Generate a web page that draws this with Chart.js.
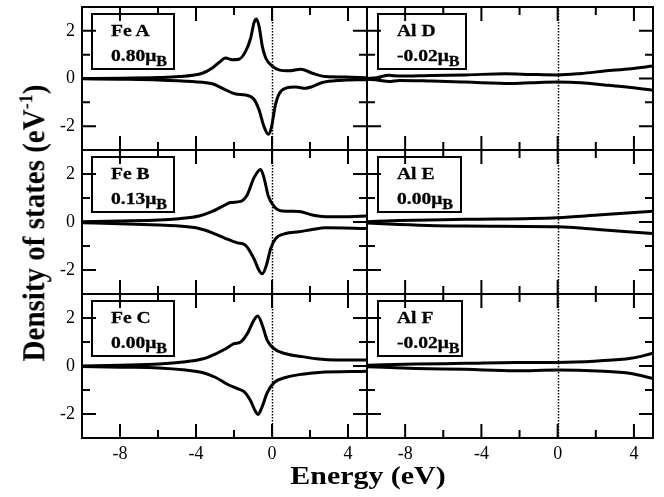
<!DOCTYPE html>
<html>
<head>
<meta charset="utf-8">
<script src="https://cdn.jsdelivr.net/npm/chart.js@4.4.1/dist/chart.umd.min.js"></script>
<style>
  html, body { margin: 0; padding: 0; background: #fff; }
  #fig { position: relative; width: 664px; height: 497px; overflow: hidden;
         font-family: "Liberation Serif", "Times New Roman", serif; color: #000; }
  #fig canvas { position: absolute; left: 0; top: 0; }
  .box { position: absolute; border: 2px solid #000; box-sizing: border-box; z-index: 5; }
  .box div { position: absolute; left: 18px; font-weight: bold; font-size: 17px; line-height: 17px;
             white-space: nowrap; transform: scaleX(1.15); transform-origin: left center;
             -webkit-text-stroke: 0.3px #000; }
  .box sub { font-size: 14px; line-height: 0; vertical-align: -5px; }
  .title { position: absolute; font-weight: bold; white-space: nowrap; text-align: center; z-index: 5; }
  .title sup { font-size: 18px; line-height: 0; vertical-align: 11px; }
</style>
</head>
<body>
<div id="fig">
  <div class="title" id="ytitle">Density of states (eV<sup>-1</sup>)</div>
  <div class="title" id="xtitle">Energy (eV)</div>
</div>
<script>
// Axes
const energyMin = -10, energyMax = 5;
const dosMin = -3, dosMax = 3;
const xTickLabels = [-8, -4, 0, 4];
const xMinorTicks = [-6, -2, 2];
const yTickLabels = [-2, 0, 2];
const yMinorTicks = [-1, 1];

// Panel labels
const siteNames = ['Fe A', 'Fe B', 'Fe C', 'Al D', 'Al E', 'Al F'];
const siteMoments = ['0.80', '0.13', '0.00', '-0.02', '0.00', '-0.02'];

// Fe A
const feA_upE = [-10, -8, -6, -4.9, -3.67, -3.14, -2.79, -2.44, -2.09, -1.74, -1.39, -1.12, -0.95, -0.82, -0.68, -0.51, -0.33, 0, 0.37, 0.9, 1.51, 2.12, 2.82, 3.88, 5];
const feA_up  = [0.0, 0.01, 0.04, 0.08, 0.22, 0.44, 0.67, 0.86, 0.79, 0.81, 1.14, 1.70, 2.33, 2.50, 2.19, 1.35, 0.86, 0.53, 0.36, 0.32, 0.39, 0.22, 0.08, 0.06, 0.03];
const feA_dnE = [-10, -8, -6, -4.19, -3.14, -2.44, -1.91, -1.39, -0.95, -0.68, -0.42, -0.19, -0.02, 0.16, 0.37, 0.72, 1.25, 1.77, 2.12, 2.65, 3.53, 5];
const feA_dn  = [-0.01, -0.03, -0.06, -0.13, -0.22, -0.48, -0.65, -0.69, -0.87, -1.32, -2.02, -2.34, -2.02, -1.18, -0.65, -0.41, -0.36, -0.41, -0.34, -0.17, -0.08, -0.05];

// Fe B
const feB_upE = [-10, -8, -5.95, -4.9, -3.84, -3.14, -2.61, -2.18, -1.65, -1.30, -0.95, -0.60, -0.42, -0.19, 0.11, 0.54, 1.42, 2.12, 2.82, 3.88, 5];
const feB_up  = [0.01, 0.04, 0.08, 0.14, 0.25, 0.44, 0.65, 0.81, 0.86, 1.14, 1.84, 2.19, 1.84, 1.07, 0.65, 0.46, 0.44, 0.29, 0.22, 0.22, 0.25];
const feB_dnE = [-10, -8, -5.95, -4.9, -3.84, -3.14, -2.44, -1.82, -1.39, -0.95, -0.68, -0.51, -0.30, -0.07, 0.19, 0.72, 1.42, 2.12, 2.82, 5];
const feB_dn  = [-0.03, -0.07, -0.13, -0.17, -0.27, -0.45, -0.69, -0.87, -0.97, -1.53, -2.02, -2.16, -1.81, -1.11, -0.69, -0.48, -0.41, -0.31, -0.24, -0.27];

// Fe C
const feC_upE = [-10, -8, -5.95, -4.54, -3.67, -2.96, -2.44, -2.00, -1.65, -1.30, -0.95, -0.75, -0.51, -0.25, 0.11, 0.72, 1.60, 2.47, 3.35, 5];
const feC_up  = [0.0, 0.03, 0.08, 0.18, 0.29, 0.51, 0.72, 0.93, 1.0, 1.35, 1.91, 2.08, 1.70, 1.07, 0.72, 0.51, 0.39, 0.29, 0.25, 0.25];
const feC_dnE = [-10, -8, -5.95, -4.54, -3.67, -2.96, -2.35, -1.82, -1.47, -1.12, -0.86, -0.74, -0.54, -0.25, 0.11, 0.72, 1.60, 2.47, 5];
const feC_dn  = [-0.02, -0.05, -0.08, -0.17, -0.27, -0.48, -0.76, -0.94, -1.07, -1.46, -1.91, -2.02, -1.74, -1.11, -0.69, -0.48, -0.34, -0.27, -0.22];

// Al D
const alD_upE = [-10, -9.5, -8.85, -8.3, -6.6, -4.84, -2.76, -1.37, 0, 1.23, 2.45, 3.84, 5];
const alD_up  = [0.0, 0.03, 0.14, 0.10, 0.13, 0.15, 0.20, 0.17, 0.15, 0.21, 0.31, 0.41, 0.52];
const alD_dnE = [-10, -9.4, -8.85, -8.3, -6.6, -4.84, -2.41, -1.37, 0, 1.23, 2.45, 3.84, 5];
const alD_dn  = [-0.03, -0.07, -0.13, -0.08, -0.11, -0.15, -0.21, -0.18, -0.15, -0.18, -0.27, -0.38, -0.49];

// Al E
const alE_E  = [-10, -8.3, -4.84, 0, 2.1, 5];
const alE_up = [0.01, 0.06, 0.11, 0.18, 0.29, 0.45];
const alE_dn = [-0.04, -0.10, -0.17, -0.20, -0.31, -0.48];

// Al F
const alF_E  = [-10, -7.45, -4.84, -2.24, 0, 2.1, 3.84, 5];
const alF_up = [0.03, 0.08, 0.11, 0.15, 0.15, 0.21, 0.32, 0.53];
const alF_dn = [-0.03, -0.10, -0.14, -0.20, -0.17, -0.21, -0.31, -0.52];

// Layout
const W = 664, H = 497;
const colEdges = [[82, 367], [367, 653]];
const rowEdges = [[7, 150], [150, 294], [294, 438]];
const Y_AXIS_W = 40, X_AXIS_H = 32;
const boxWidths = [84, 84, 84, 90, 85, 86];

const curves = [
  [feA_upE, feA_up, feA_dnE, feA_dn],
  [feB_upE, feB_up, feB_dnE, feB_dn],
  [feC_upE, feC_up, feC_dnE, feC_dn],
  [alD_upE, alD_up, alD_dnE, alD_dn],
  [alE_E, alE_up, alE_E, alE_dn],
  [alF_E, alF_up, alF_E, alF_dn]
];

const pts = (xs, ys) => xs.map((x, i) => ({ x, y: ys[i] }));

// frame, inward ticks and the dotted Fermi line
const framePlugin = {
  id: 'frame',
  beforeDatasetsDraw(chart) {
    const { ctx, chartArea: a, scales: { x } } = chart;
    const px = Math.round(x.getPixelForValue(0)) + 0.5;
    ctx.save();
    ctx.strokeStyle = '#000';
    ctx.lineWidth = 1.5;
    ctx.setLineDash([1.5, 1.5]);
    ctx.beginPath();
    ctx.moveTo(px, a.top);
    ctx.lineTo(px, a.bottom);
    ctx.stroke();
    ctx.restore();
  },
  afterDatasetsDraw(chart) {
    const { ctx, chartArea: a, scales: { x, y } } = chart;
    ctx.save();
    ctx.strokeStyle = '#000';
    ctx.lineWidth = 2;
    ctx.beginPath();
    const xt = (v, len) => {
      const p = x.getPixelForValue(v);
      ctx.moveTo(p, a.top); ctx.lineTo(p, a.top + len);
      ctx.moveTo(p, a.bottom); ctx.lineTo(p, a.bottom - len);
    };
    const yt = (v, len) => {
      const p = y.getPixelForValue(v);
      ctx.moveTo(a.left, p); ctx.lineTo(a.left + len, p);
      ctx.moveTo(a.right, p); ctx.lineTo(a.right - len, p);
    };
    xTickLabels.forEach(v => xt(v, 14));
    xMinorTicks.forEach(v => xt(v, 8));
    yTickLabels.forEach(v => yt(v, 14));
    yMinorTicks.forEach(v => yt(v, 8));
    ctx.stroke();
    ctx.strokeRect(a.left, a.top, a.right - a.left, a.bottom - a.top);
    ctx.restore();
  }
};

const fig = document.getElementById('fig');

curves.forEach((c, i) => {
  const col = i < 3 ? 0 : 1;
  const row = i % 3;
  const [x0, x1] = colEdges[col];
  const [y0, y1] = rowEdges[row];

  const canvas = document.createElement('canvas');
  canvas.width = W;
  canvas.height = H;
  fig.appendChild(canvas);

  const lineStyle = { borderColor: '#000', borderWidth: 3, pointRadius: 0, fill: false, cubicInterpolationMode: 'monotone' };

  new Chart(canvas, {
    type: 'line',
    data: {
      datasets: [
        { data: pts(c[0], c[1]), ...lineStyle },
        { data: pts(c[2], c[3]), ...lineStyle }
      ]
    },
    plugins: [framePlugin],
    options: {
      responsive: false,
      animation: false,
      devicePixelRatio: 1,
      events: [],
      layout: {
        padding: {
          left: x0 - (col === 0 ? Y_AXIS_W : 0),
          right: W - x1,
          top: y0,
          bottom: H - y1 - (row === 2 ? X_AXIS_H : 0)
        }
      },
      plugins: { legend: { display: false }, tooltip: { enabled: false } },
      scales: {
        x: {
          type: 'linear', min: energyMin, max: energyMax,
          display: row === 2,
          grid: { display: false, drawTicks: false },
          border: { display: false },
          afterBuildTicks: s => { s.ticks = xTickLabels.map(v => ({ value: v })); },
          afterFit: s => { s.height = row === 2 ? X_AXIS_H : 0; s.paddingLeft = 0; s.paddingRight = 0; },
          ticks: { color: '#000', padding: 5, maxRotation: 0, autoSkip: false,
                   font: { family: 'Liberation Serif', size: 18 }, callback: v => String(v) }
        },
        y: {
          type: 'linear', min: dosMin, max: dosMax,
          display: col === 0,
          grid: { display: false, drawTicks: false },
          border: { display: false },
          afterBuildTicks: s => { s.ticks = yTickLabels.map(v => ({ value: v })); },
          afterFit: s => { s.width = col === 0 ? Y_AXIS_W : 0; s.paddingTop = 0; s.paddingBottom = 0; },
          ticks: { color: '#000', padding: 7, autoSkip: false,
                   font: { family: 'Liberation Serif', size: 18 }, callback: v => String(v) }
        }
      }
    }
  });

  // label box
  const box = document.createElement('div');
  box.className = 'box';
  box.style.left = (x0 + (col === 0 ? 9 : 10)) + 'px';
  box.style.top = (y0 + 5.5) + 'px';
  box.style.width = boxWidths[i] + 'px';
  box.style.height = '57px';
  box.innerHTML = `<div style="top:7px">${siteNames[i]}</div>` +
                  `<div style="top:32px">${siteMoments[i]}&mu;<sub>B</sub></div>`;
  fig.appendChild(box);
});

// axis titles
const xt = document.getElementById('xtitle');
Object.assign(xt.style, { left: '167.5px', top: '463px', width: '400px', fontSize: '26px',
  lineHeight: '26px', transform: 'scaleX(1.15)' });
const yt = document.getElementById('ytitle');
Object.assign(yt.style, { left: '-127.5px', top: '206px', width: '320px', height: '34px', fontSize: '29px',
  lineHeight: '34px', transform: 'rotate(-90deg) scaleY(1.1)', transformOrigin: 'center center' });
</script>
</body>
</html>
